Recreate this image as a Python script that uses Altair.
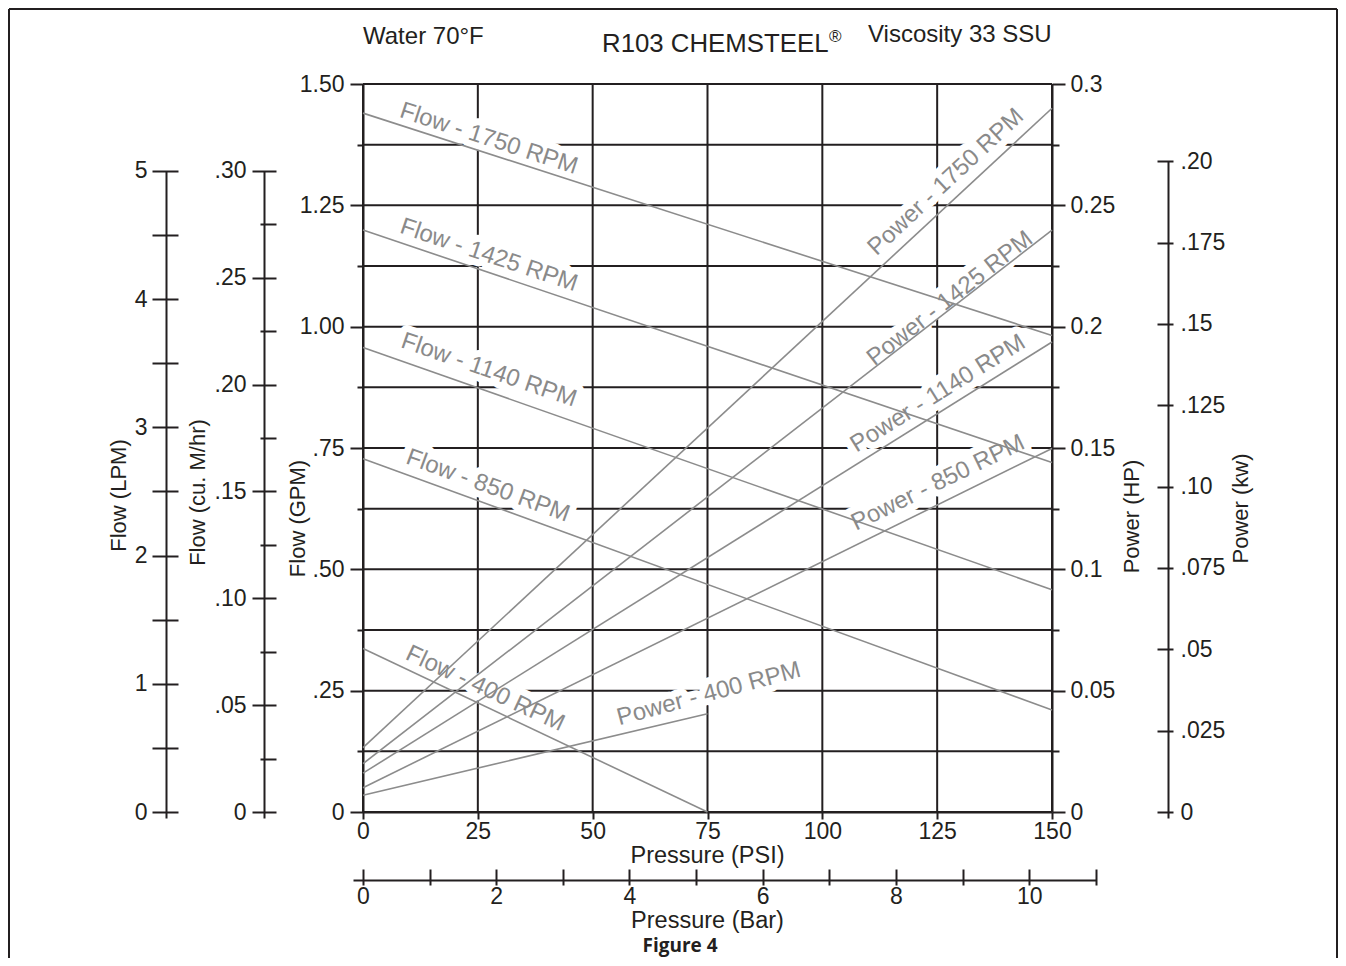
import altair as alt
import pandas as pd

FONT = "Liberation Sans"
BLACK = "#231f20"
LINE_GRAY = "#8c8c8c"
TEXT_GRAY = "#8a8a8a"

# ---------------- data ----------------
RPM = ["1750", "1425", "1140", "850", "400"]
FLOW_PSI = [[0, 150], [0, 150], [0, 150], [0, 150], [0, 75]]
FLOW_GPM = [[1.440, 0.982], [1.199, 0.720], [0.957, 0.458], [0.728, 0.210], [0.337, 0.0]]
POWER_PSI = [[0, 150], [0, 150], [0, 150], [0, 150], [0, 75]]
POWER_HP = [[0.0265, 0.2900], [0.0199, 0.2398], [0.0160, 0.1937], [0.0100, 0.1498], [0.0069, 0.0405]]

LABEL_TEXT = ["Flow - 1750 RPM", "Flow - 1425 RPM", "Flow - 1140 RPM", "Flow - 850 RPM",
              "Flow - 400 RPM", "Power - 1750 RPM", "Power - 1425 RPM", "Power - 1140 RPM",
              "Power - 850 RPM", "Power - 400 RPM"]
LABEL_PSI = [27.4, 27.4, 27.4, 27.2, 26.6, 126.9, 127.8, 125.2, 125.2, 75.3]
LABEL_GPM = [1.387, 1.147, 0.910, 0.672, 0.254, 1.298, 1.058, 0.862, 0.678, 0.243]
LABEL_ANGLE = [18, 18.5, 19, 20, 25, 317, 322, 328, 334, 345]

PSI_TICKS = [0, 25, 50, 75, 100, 125, 150]
GPM_MAJOR = [0, 0.25, 0.5, 0.75, 1.0, 1.25, 1.5]
GPM_MINOR = [0.125, 0.375, 0.625, 0.875, 1.125, 1.375]
HP_MAJOR = [0, 0.05, 0.1, 0.15, 0.2, 0.25, 0.3]
HP_MINOR = [0.025, 0.075, 0.125, 0.175, 0.225, 0.275]
LPM_TICKS = [0, 0.5, 1, 1.5, 2, 2.5, 3, 3.5, 4, 4.5, 5]
M3H_MAJOR = [0, 0.05, 0.10, 0.15, 0.20, 0.25, 0.30]
M3H_MINOR = [0.025, 0.075, 0.125, 0.175, 0.225, 0.275]
KW_TICKS = [0, 0.025, 0.05, 0.075, 0.10, 0.125, 0.15, 0.175, 0.20]
BAR_TICKS = [0, 1, 2, 3, 4, 5, 6, 7, 8, 9, 10, 11]

TOP_TEXTS = ["Water 70°F", "R103 CHEMSTEEL", "®", "Viscosity 33 SSU"]
FIGURE_TEXT = "Figure 4"

# ---------------- geometry ----------------
W, H = 689, 728
EXT = 6
GPM_PER_LPM = 1 / 3.785411784
LPM_PER_M3H = 1000 / 60
HP_PER_KW = 1 / 0.745699872
PSI_PER_BAR = 14.5037738

gpm_px = H / 1.5
lpm_px = gpm_px * GPM_PER_LPM
m3h_px = lpm_px * LPM_PER_M3H
hp_px = H / 0.3
kw_px = hp_px * HP_PER_KW
bar_px = W / 150 * PSI_PER_BAR

TICK_FS = 23
TITLE_FS = 22

AX = dict(domainColor=BLACK, domainWidth=2, tickColor=BLACK, tickWidth=2,
          labelFont=FONT, labelFontSize=TICK_FS, labelColor=BLACK,
          titleFont=FONT, titleFontSize=TITLE_FS, titleColor=BLACK, titleFontWeight="normal",
          grid=False, labelOverlap=False, labelFlush=False)


def axis(**kw):
    d = dict(AX)
    d.update(kw)
    return alt.Axis(**d)


def y_layer(values, scale, ax):
    return alt.Chart(pd.DataFrame({"v": values})).mark_point(opacity=0, size=0).encode(
        y=alt.Y("v:Q", scale=scale, axis=ax))


def x_layer(values, scale, ax):
    return alt.Chart(pd.DataFrame({"v": values})).mark_point(opacity=0, size=0).encode(
        x=alt.X("v:Q", scale=scale, axis=ax))


psi_scale = alt.Scale(domain=[0, 150], nice=False, zero=False)
gpm_scale = alt.Scale(domain=[0, 1.5], nice=False, zero=False)
hp_scale = alt.Scale(domain=[0, 0.3], nice=False, zero=False)
lpm_scale = alt.Scale(domain=[-EXT / lpm_px, 5], range=[H + EXT, H - 5 * lpm_px], nice=False, zero=False)
m3h_scale = alt.Scale(domain=[-EXT / m3h_px, 0.30], range=[H + EXT, H - 0.30 * m3h_px], nice=False, zero=False)
kw_scale = alt.Scale(domain=[-EXT / kw_px, 0.20], range=[H + EXT, H - 0.20 * kw_px], nice=False, zero=False)
bar_scale = alt.Scale(domain=[-0.15, 11], range=[-0.15 * bar_px, 11 * bar_px], nice=False, zero=False)

layers = []

# ---------------- grid (rules through the shared scales) ----------------
hgrid = pd.DataFrame({"gpm": GPM_MAJOR + GPM_MINOR,
                      "p0": [PSI_TICKS[0]] * 13, "p1": [PSI_TICKS[-1]] * 13})
vgrid = pd.DataFrame({"psi": PSI_TICKS, "g0": [GPM_MAJOR[0]] * 7, "g1": [GPM_MAJOR[-1]] * 7})
layers.append(alt.Chart(hgrid).mark_rule(color=BLACK, strokeWidth=2).encode(
    x=alt.X("p0:Q", scale=psi_scale, axis=None), x2="p1:Q",
    y=alt.Y("gpm:Q", scale=gpm_scale, axis=None)))
layers.append(alt.Chart(vgrid).mark_rule(color=BLACK, strokeWidth=2).encode(
    x=alt.X("psi:Q", scale=psi_scale, axis=None),
    y=alt.Y("g0:Q", scale=gpm_scale, axis=None), y2="g1:Q"))

# ---------------- axes ----------------
layers.append(x_layer(PSI_TICKS, psi_scale, axis(
    orient="bottom", values=PSI_TICKS, tickSize=7, labelPadding=1,
    labelExpr="format(datum.value, 'd')", title="Pressure (PSI)", titleFontSize=23.5,
    titleX=344, titleY=43, titleAlign="center", titleBaseline="middle")))
layers.append(x_layer(BAR_TICKS, bar_scale, axis(
    orient="bottom", offset=57, values=BAR_TICKS, tickSize=16, domain=False, labelPadding=0,
    labelExpr="datum.value % 2 == 0 ? format(datum.value, 'd') : ''", title=None)))
layers.append(x_layer(BAR_TICKS, bar_scale, axis(
    orient="bottom", offset=68, ticks=False, labels=False, title="Pressure (Bar)", titleFontSize=23.5,
    titleX=344, titleY=40.5, titleAlign="center", titleBaseline="middle")))

layers.append(y_layer(GPM_MAJOR, gpm_scale, axis(
    orient="left", values=GPM_MAJOR, tickSize=13, labelPadding=6,
    labelExpr="datum.value == 0 ? '0' : (datum.value < 1 ? replace(format(datum.value, '.2f'), '0.', '.') : format(datum.value, '.2f'))",
    title="Flow (GPM)", titleAngle=270, titleX=-66, titleY=434, titleAlign="center", titleBaseline="middle")))
layers.append(y_layer(GPM_MINOR, gpm_scale, axis(
    orient="left", values=GPM_MINOR, tickSize=6, labels=False, domain=False, title=None)))

layers.append(y_layer(HP_MAJOR, hp_scale, axis(
    orient="right", values=HP_MAJOR, tickSize=13, labelPadding=5,
    labelExpr="format(datum.value, '~g')",
    title="Power (HP)", titleAngle=270, titleX=79, titleY=432, titleAlign="center", titleBaseline="middle")))
layers.append(y_layer(HP_MINOR, hp_scale, axis(
    orient="right", values=HP_MINOR, tickSize=7, labels=False, domain=False, title=None)))

layers.append(y_layer(LPM_TICKS, lpm_scale, axis(
    orient="left", offset=185, values=LPM_TICKS, tickSize=26, domain=False, labelPadding=5,
    labelExpr="datum.value % 1 == 0 ? format(datum.value, 'd') : ''", title=None)))
layers.append(y_layer(LPM_TICKS, lpm_scale, axis(
    orient="left", offset=197, ticks=False, labels=False,
    title="Flow (LPM)", titleAngle=270, titleX=-48, titleY=411, titleAlign="center", titleBaseline="middle")))

layers.append(y_layer(M3H_MAJOR, m3h_scale, axis(
    orient="left", offset=87, values=M3H_MAJOR, tickSize=24, domain=False, labelPadding=6,
    labelExpr="datum.value == 0 ? '0' : replace(format(datum.value, '.2f'), '0.', '.')", title=None)))
layers.append(y_layer(M3H_MINOR, m3h_scale, axis(
    orient="left", offset=87, values=M3H_MINOR, tickSize=16, domain=False, labels=False, title=None)))
layers.append(y_layer(M3H_MAJOR, m3h_scale, axis(
    orient="left", offset=99, ticks=False, labels=False,
    title="Flow (cu. M/hr)", titleAngle=270, titleX=-67, titleY=408, titleAlign="center", titleBaseline="middle")))

layers.append(y_layer(KW_TICKS, kw_scale, axis(
    orient="right", offset=105, values=KW_TICKS, tickSize=16, domain=False, labelPadding=7,
    labelExpr="datum.value == 0 ? '0' : (round(datum.value * 1000) % 50 == 0 ? replace(format(datum.value, '.2f'), '0.', '.') : replace(format(datum.value, '.3f'), '0.', '.'))",
    title=None)))
layers.append(y_layer(KW_TICKS, kw_scale, axis(
    orient="right", offset=116, ticks=False, labels=False,
    title="Power (kw)", titleAngle=270, titleX=72, titleY=424, titleAlign="center", titleBaseline="middle")))

# ---------------- curves and labels ----------------
flow_rows, power_rows = [], []
for r, ps, gs in zip(RPM, FLOW_PSI, FLOW_GPM):
    for p, g in zip(ps, gs):
        flow_rows.append({"series": r, "psi": p, "gpm": g})
for r, ps, hs in zip(RPM, POWER_PSI, POWER_HP):
    for p, h in zip(ps, hs):
        power_rows.append({"series": r, "psi": p, "hp": h})
flow_df = pd.DataFrame(flow_rows)
power_df = pd.DataFrame(power_rows)
label_df = pd.DataFrame({"text": LABEL_TEXT, "psi": LABEL_PSI, "gpm": LABEL_GPM, "angle": LABEL_ANGLE})

x_main = alt.X("psi:Q", scale=psi_scale, axis=None)
y_main = alt.Y("gpm:Q", scale=gpm_scale, axis=None)

# white halo behind the labels cuts the grid lines, as in the print
layers.append(alt.Chart(label_df).mark_text(
    font=FONT, fontSize=24, fill="white", stroke="white", strokeWidth=14, strokeJoin="round",
    align="center", baseline="middle").encode(
    x=x_main, y=y_main, text="text:N", angle=alt.Angle("angle:Q", scale=None)))

layers.append(alt.Chart(flow_df).mark_line(color=LINE_GRAY, strokeWidth=1.6).encode(
    x=x_main, y=y_main, detail="series:N"))
layers.append(alt.Chart(power_df).mark_line(color=LINE_GRAY, strokeWidth=1.6).encode(
    x=alt.X("psi:Q", scale=psi_scale, axis=None),
    y=alt.Y("hp:Q", scale=hp_scale, axis=None), detail="series:N"))

layers.append(alt.Chart(label_df).mark_text(
    font=FONT, fontSize=24, color=TEXT_GRAY, align="center", baseline="middle").encode(
    x=x_main, y=y_main, text="text:N", angle=alt.Angle("angle:Q", scale=None)))


# ---------------- headings ----------------
def text_at(t, x, y, size=24, weight="normal", font=FONT, align="left"):
    return alt.Chart(pd.DataFrame({"t": [t]})).mark_text(
        font=font, fontSize=size, fontWeight=weight, color=BLACK, align=align, baseline="middle").encode(
        text="t:N", x=alt.value(x), y=alt.value(y))


layers.append(text_at(TOP_TEXTS[0], 0, -47))
layers.append(text_at(TOP_TEXTS[1], 239, -40, size=25.8))
layers.append(text_at(TOP_TEXTS[2], 466, -47, size=17))
layers.append(text_at(TOP_TEXTS[3], 505, -49))
layers.append(text_at(FIGURE_TEXT, 317, 862, size=19, weight="bold", font="Open Sans", align="center"))

# frame
frame = pd.DataFrame({"a": [0]})
layers.append(alt.Chart(frame).mark_rule(color=BLACK, strokeWidth=2).encode(
    x=alt.value(-354), x2=alt.value(974), y=alt.value(-75)))
layers.append(alt.Chart(frame).mark_rule(color=BLACK, strokeWidth=2).encode(
    x=alt.value(-354), y=alt.value(-75), y2=alt.value(874)))
layers.append(alt.Chart(frame).mark_rule(color=BLACK, strokeWidth=2).encode(
    x=alt.value(974), y=alt.value(-75), y2=alt.value(874)))

chart = alt.layer(*layers).properties(
    width=W, height=H,
    padding={"left": 355, "top": 76, "right": 286, "bottom": 146},
    autosize=alt.AutoSizeParams(type="none"),
).resolve_scale(x="independent", y="independent").configure_view(stroke=None)

chart.save("out.html", embed_options={"renderer": "svg", "actions": False})
